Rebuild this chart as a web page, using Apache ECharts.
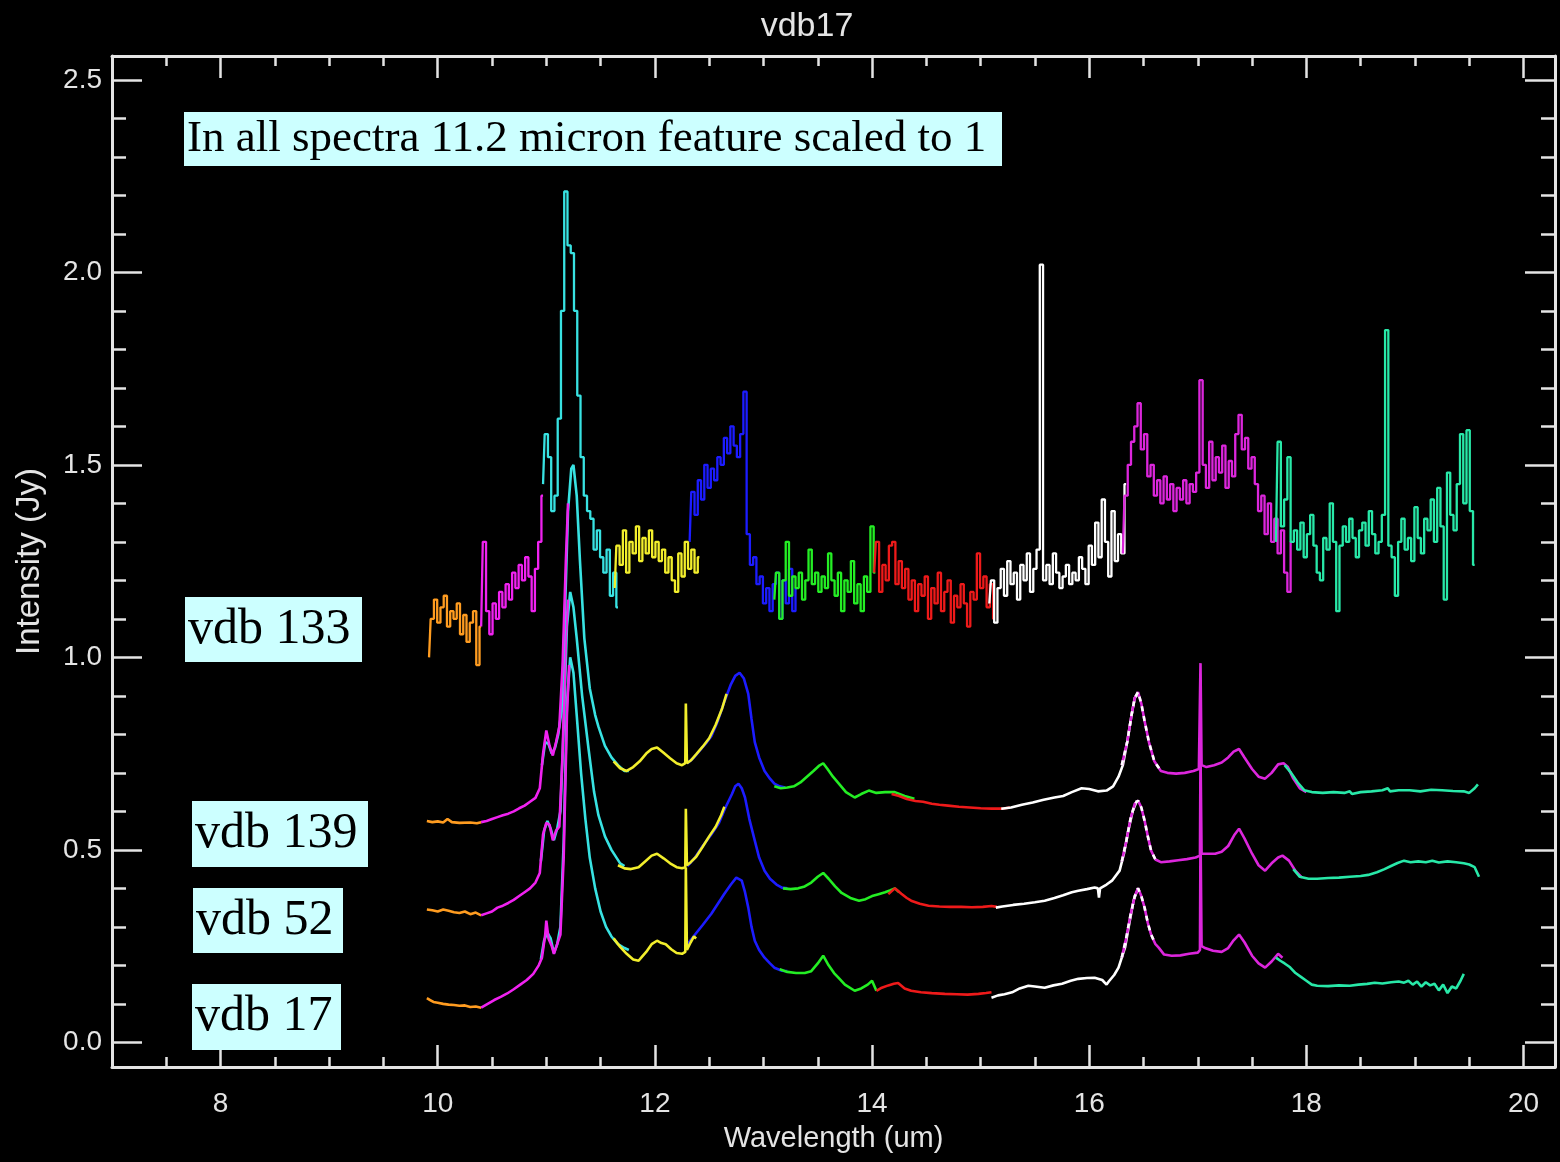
<!DOCTYPE html>
<html>
<head>
<meta charset="utf-8">
<title>vdb17</title>
<script src="https://cdn.jsdelivr.net/npm/echarts@6/dist/echarts.min.js"></script>
<style>
  html, body { margin: 0; padding: 0; background: #000; }
  #chart { width: 1560px; height: 1162px; }
</style>
</head>
<body>
<div id="chart"></div>
<script>
// ---- axis ticks ----
const xMajorTicks = [8, 10, 12, 14, 16, 18, 20];
const xMinorTicks = [7.5, 8.5, 9, 9.5, 10.5, 11, 11.5, 12.5, 13, 13.5, 14.5, 15, 15.5, 16.5, 17, 17.5, 18.5, 19, 19.5];
const yMajorTicks = [0, 0.5, 1.0, 1.5, 2.0, 2.5];
const yMinorTicks = [0.1, 0.2, 0.3, 0.4, 0.6, 0.7, 0.8, 0.9, 1.1, 1.2, 1.3, 1.4, 1.6, 1.7, 1.8, 1.9, 2.1, 2.2, 2.3, 2.4];

// ---- vdb 133: noisy spectrum sampled every 0.03 um, one array per order ----
const vdb133Step = 0.03;
const vdb133OrangeStart = 9.92;
const vdb133Orange = [1.00, 1.10, 1.15, 1.09, 1.13, 1.16, 1.08, 1.12, 1.10, 1.14, 1.06, 1.11, 1.04, 1.09, 1.12, 0.98, 1.08];
const vdb133MagentaStart = 10.40;
const vdb133Magenta = [1.08, 1.30, 1.12, 1.06, 1.14, 1.10, 1.17, 1.13, 1.19, 1.15, 1.22, 1.18, 1.24, 1.20, 1.26, 1.21, 1.12, 1.23, 1.30, 1.42];
const vdb133CyanStart = 10.97;
const vdb133Cyan = [1.45, 1.58, 1.52, 1.38, 1.42, 1.62, 1.90, 2.21, 2.07, 2.05, 1.90, 1.68, 1.52, 1.42, 1.38, 1.36, 1.28, 1.33, 1.26, 1.22, 1.28, 1.16, 1.22, 1.13];
const vdb133YellowStart = 11.63;
const vdb133Yellow = [1.18, 1.29, 1.24, 1.33, 1.22, 1.30, 1.27, 1.34, 1.25, 1.31, 1.27, 1.33, 1.26, 1.30, 1.25, 1.28, 1.22, 1.26, 1.20, 1.17, 1.27, 1.21, 1.30, 1.23, 1.28, 1.22, 1.26];
const vdb133BlueStart = 12.32;
const vdb133Blue = [1.30, 1.43, 1.37, 1.46, 1.41, 1.50, 1.44, 1.49, 1.46, 1.52, 1.50, 1.57, 1.53, 1.60, 1.55, 1.52, 1.58, 1.69, 1.32, 1.24, 1.26, 1.19, 1.21, 1.14, 1.18, 1.12, 1.19, 1.22, 1.10, 1.20, 1.14, 1.23, 1.12, 1.18];
const vdb133GreenStart = 13.10;
const vdb133Green = [1.15, 1.22, 1.10, 1.20, 1.30, 1.16, 1.21, 1.18, 1.22, 1.15, 1.20, 1.28, 1.19, 1.22, 1.17, 1.21, 1.18, 1.27, 1.20, 1.16, 1.22, 1.12, 1.20, 1.17, 1.25, 1.14, 1.19, 1.12, 1.21, 1.17, 1.34, 1.22];
const vdb133RedStart = 14.02;
const vdb133Red = [1.22, 1.30, 1.17, 1.24, 1.20, 1.29, 1.30, 1.19, 1.25, 1.18, 1.23, 1.15, 1.20, 1.12, 1.19, 1.16, 1.21, 1.10, 1.18, 1.14, 1.22, 1.12, 1.17, 1.20, 1.09, 1.16, 1.13, 1.19, 1.14, 1.08, 1.17, 1.15, 1.27, 1.18, 1.21, 1.13, 1.19, 1.10];
const vdb133WhiteStart = 15.08;
const vdb133White = [1.14, 1.20, 1.09, 1.18, 1.23, 1.16, 1.25, 1.19, 1.22, 1.15, 1.24, 1.20, 1.27, 1.17, 1.23, 1.28, 2.02, 1.20, 1.24, 1.19, 1.27, 1.22, 1.18, 1.21, 1.24, 1.19, 1.22, 1.20, 1.26, 1.23, 1.19, 1.29, 1.24, 1.35, 1.26, 1.41, 1.30, 1.21, 1.38, 1.25, 1.32, 1.27, 1.45];
const vdb133Magenta2Start = 16.31;
const vdb133Magenta2 = [1.27, 1.42, 1.50, 1.56, 1.60, 1.66, 1.54, 1.58, 1.47, 1.50, 1.42, 1.46, 1.40, 1.47, 1.41, 1.45, 1.38, 1.44, 1.41, 1.46, 1.40, 1.45, 1.43, 1.48, 1.72, 1.50, 1.44, 1.56, 1.46, 1.52, 1.48, 1.55, 1.44, 1.51, 1.47, 1.58, 1.63, 1.54, 1.57, 1.49, 1.52, 1.45, 1.38, 1.42, 1.32, 1.40, 1.30, 1.36, 1.27, 1.33, 1.22, 1.17, 1.30];
const vdb133AquaStart = 17.72;
const vdb133Aqua = [1.30, 1.56, 1.34, 1.41, 1.52, 1.30, 1.33, 1.28, 1.35, 1.26, 1.32, 1.37, 1.29, 1.22, 1.20, 1.31, 1.28, 1.40, 1.30, 1.12, 1.29, 1.34, 1.30, 1.36, 1.31, 1.26, 1.33, 1.35, 1.29, 1.38, 1.32, 1.27, 1.30, 1.37, 1.85, 1.29, 1.26, 1.16, 1.30, 1.36, 1.28, 1.31, 1.25, 1.39, 1.31, 1.27, 1.36, 1.33, 1.41, 1.30, 1.44, 1.34, 1.15, 1.48, 1.37, 1.33, 1.45, 1.58, 1.40, 1.59, 1.38, 1.24];

// ---- vdb 139: [wavelength, intensity] ----
const vdb139Orange = [[9.90,0.575],[9.95,0.572],[10.00,0.574],[10.05,0.571],[10.09,0.580],[10.13,0.572],[10.20,0.570],[10.30,0.571],[10.36,0.569],[10.40,0.572]];
const vdb139Magenta = [[10.40,0.572],[10.45,0.575],[10.50,0.580],[10.55,0.585],[10.60,0.590],[10.65,0.594],[10.70,0.600],[10.75,0.608],[10.80,0.615],[10.85,0.625],[10.90,0.635],[10.94,0.66],[10.97,0.75],[11.00,0.81],[11.03,0.77],[11.06,0.745],[11.09,0.78],[11.12,0.82],[11.15,0.98],[11.18,1.25],[11.20,1.40]];
const vdb139Cyan = [[10.96,0.72],[10.99,0.78],[11.02,0.775],[11.05,0.75],[11.08,0.765],[11.11,0.80],[11.14,0.86],[11.17,1.10],[11.20,1.38],[11.23,1.49],[11.25,1.50],[11.28,1.42],[11.31,1.25],[11.35,1.05],[11.40,0.92],[11.45,0.85],[11.48,0.82],[11.54,0.77],[11.60,0.74],[11.66,0.72],[11.72,0.705],[11.76,0.705]];
const vdb139Yellow = [[11.62,0.73],[11.68,0.712],[11.74,0.705],[11.80,0.715],[11.86,0.73],[11.92,0.75],[11.97,0.762],[12.02,0.766],[12.08,0.752],[12.14,0.738],[12.20,0.725],[12.25,0.72],[12.28,0.725],[12.285,0.88],[12.295,0.725],[12.33,0.732],[12.38,0.748],[12.44,0.768],[12.50,0.79],[12.56,0.825],[12.62,0.868],[12.66,0.905]];
const vdb139Blue = [[12.30,0.725],[12.36,0.74],[12.42,0.76],[12.48,0.78],[12.52,0.795],[12.58,0.835],[12.64,0.885],[12.70,0.93],[12.74,0.952],[12.78,0.96],[12.82,0.945],[12.86,0.905],[12.89,0.84],[12.92,0.78],[12.96,0.74],[13.01,0.705],[13.06,0.685],[13.10,0.672],[13.15,0.665],[13.20,0.662]];
const vdb139Green = [[13.10,0.665],[13.16,0.66],[13.22,0.662],[13.28,0.665],[13.34,0.675],[13.40,0.69],[13.46,0.705],[13.51,0.718],[13.55,0.725],[13.59,0.71],[13.64,0.69],[13.70,0.67],[13.76,0.65],[13.84,0.636],[13.90,0.645],[13.97,0.654],[14.04,0.648],[14.12,0.65],[14.21,0.65],[14.30,0.64],[14.39,0.633]];
const vdb139Red = [[14.18,0.645],[14.25,0.64],[14.32,0.632],[14.40,0.627],[14.47,0.625],[14.55,0.62],[14.62,0.617],[14.70,0.615],[14.80,0.612],[14.90,0.61],[15.00,0.608],[15.10,0.607],[15.20,0.607],[15.27,0.61]];
const vdb139White = [[15.19,0.607],[15.28,0.61],[15.38,0.617],[15.48,0.623],[15.58,0.63],[15.68,0.636],[15.76,0.64],[15.84,0.65],[15.93,0.66],[16.00,0.658],[16.08,0.652],[16.16,0.654],[16.22,0.665],[16.27,0.69],[16.31,0.72],[16.35,0.78],[16.39,0.85],[16.42,0.895],[16.45,0.905]];
const vdb139Magenta2 = [[16.30,0.72],[16.35,0.78],[16.39,0.85],[16.42,0.895],[16.45,0.91],[16.48,0.88],[16.51,0.835],[16.55,0.78],[16.60,0.73],[16.66,0.705],[16.72,0.70],[16.80,0.698],[16.88,0.70],[16.96,0.705],[17.01,0.71],[17.025,0.985],[17.035,0.72],[17.08,0.715],[17.15,0.72],[17.22,0.727],[17.28,0.74],[17.33,0.755],[17.38,0.762],[17.43,0.74],[17.50,0.71],[17.56,0.69],[17.62,0.685],[17.68,0.70],[17.74,0.722],[17.79,0.725],[17.83,0.715],[17.88,0.685],[17.94,0.66],[18.00,0.65]];
const vdb139Aqua = [[17.80,0.72],[17.86,0.70],[17.92,0.675],[17.98,0.655],[18.05,0.65],[18.15,0.648],[18.25,0.65],[18.35,0.648],[18.40,0.652],[18.42,0.645],[18.50,0.65],[18.60,0.652],[18.70,0.655],[18.75,0.66],[18.77,0.652],[18.85,0.655],[18.95,0.655],[19.05,0.652],[19.15,0.656],[19.25,0.655],[19.35,0.653],[19.45,0.652],[19.50,0.648],[19.55,0.66],[19.58,0.67]];

// ---- vdb 52 ----
const vdb52Orange = [[9.90,0.345],[9.95,0.343],[10.00,0.340],[10.05,0.345],[10.10,0.342],[10.15,0.338],[10.20,0.336],[10.25,0.34],[10.30,0.333],[10.35,0.337],[10.40,0.33]];
const vdb52Magenta = [[10.40,0.33],[10.45,0.335],[10.50,0.34],[10.55,0.35],[10.60,0.355],[10.65,0.362],[10.70,0.37],[10.75,0.38],[10.80,0.39],[10.85,0.40],[10.90,0.415],[10.94,0.44],[10.97,0.54],[11.00,0.57],[11.03,0.565],[11.06,0.525],[11.09,0.55],[11.12,0.56],[11.15,0.75],[11.18,1.05],[11.20,1.15]];
const vdb52Cyan = [[10.95,0.47],[10.98,0.55],[11.01,0.575],[11.04,0.555],[11.07,0.525],[11.10,0.555],[11.13,0.60],[11.16,0.82],[11.19,1.08],[11.22,1.17],[11.25,1.13],[11.28,1.05],[11.33,0.90],[11.39,0.76],[11.44,0.65],[11.48,0.59],[11.54,0.535],[11.60,0.50],[11.68,0.465],[11.72,0.458]];
const vdb52Yellow = [[11.66,0.46],[11.72,0.452],[11.78,0.45],[11.85,0.455],[11.91,0.47],[11.97,0.485],[12.02,0.49],[12.08,0.478],[12.14,0.465],[12.20,0.455],[12.25,0.452],[12.28,0.455],[12.285,0.607],[12.295,0.46],[12.33,0.468],[12.38,0.482],[12.44,0.508],[12.50,0.535],[12.56,0.56],[12.61,0.59],[12.64,0.612]];
const vdb52Blue = [[12.30,0.458],[12.37,0.48],[12.44,0.51],[12.52,0.54],[12.59,0.57],[12.65,0.61],[12.71,0.645],[12.74,0.665],[12.77,0.672],[12.80,0.66],[12.83,0.636],[12.87,0.58],[12.92,0.524],[12.96,0.48],[13.01,0.446],[13.06,0.425],[13.12,0.41],[13.17,0.402],[13.22,0.40]];
const vdb52Green = [[13.18,0.40],[13.25,0.398],[13.32,0.40],[13.38,0.405],[13.44,0.415],[13.50,0.43],[13.55,0.44],[13.60,0.425],[13.66,0.405],[13.72,0.388],[13.80,0.375],[13.88,0.368],[13.94,0.372],[14.00,0.38],[14.06,0.385],[14.12,0.39],[14.17,0.395],[14.21,0.40],[14.25,0.39]];
const vdb52Red = [[14.15,0.385],[14.21,0.40],[14.27,0.386],[14.32,0.375],[14.36,0.368],[14.44,0.36],[14.52,0.355],[14.62,0.353],[14.72,0.352],[14.82,0.352],[14.92,0.351],[15.02,0.352],[15.10,0.354],[15.15,0.352]];
const vdb52White = [[15.14,0.35],[15.20,0.353],[15.30,0.357],[15.40,0.36],[15.50,0.364],[15.59,0.368],[15.68,0.375],[15.76,0.382],[15.84,0.39],[15.90,0.394],[15.98,0.398],[16.05,0.402],[16.08,0.40],[16.09,0.376],[16.10,0.40],[16.16,0.41],[16.21,0.42],[16.28,0.446],[16.32,0.49],[16.36,0.55],[16.40,0.60],[16.44,0.628]];
const vdb52Magenta2 = [[16.30,0.47],[16.34,0.52],[16.38,0.58],[16.42,0.62],[16.45,0.628],[16.48,0.61],[16.51,0.576],[16.54,0.535],[16.57,0.498],[16.61,0.475],[16.66,0.468],[16.74,0.47],[16.82,0.473],[16.90,0.476],[16.98,0.48],[17.02,0.485],[17.025,0.76],[17.035,0.49],[17.10,0.49],[17.16,0.49],[17.22,0.495],[17.28,0.51],[17.34,0.54],[17.38,0.555],[17.43,0.53],[17.50,0.49],[17.56,0.46],[17.62,0.446],[17.68,0.465],[17.74,0.48],[17.78,0.485],[17.84,0.472],[17.90,0.445],[17.96,0.428]];
const vdb52Aqua = [[17.88,0.45],[17.94,0.43],[18.02,0.425],[18.10,0.425],[18.20,0.427],[18.30,0.428],[18.40,0.43],[18.50,0.432],[18.57,0.435],[18.65,0.442],[18.72,0.45],[18.78,0.458],[18.84,0.466],[18.90,0.472],[18.96,0.468],[19.03,0.47],[19.10,0.468],[19.16,0.472],[19.22,0.467],[19.30,0.47],[19.38,0.468],[19.45,0.465],[19.50,0.462],[19.55,0.455],[19.59,0.43]];

// ---- vdb 17 ----
const vdb17Orange = [[9.90,0.115],[9.93,0.11],[9.96,0.105],[10.00,0.103],[10.05,0.10],[10.10,0.098],[10.15,0.097],[10.20,0.095],[10.25,0.096],[10.30,0.092],[10.35,0.093],[10.40,0.09]];
const vdb17Magenta = [[10.40,0.09],[10.46,0.10],[10.52,0.11],[10.58,0.118],[10.64,0.127],[10.70,0.138],[10.76,0.15],[10.82,0.162],[10.88,0.178],[10.93,0.20],[10.96,0.22],[10.99,0.28],[11.00,0.316],[11.02,0.27],[11.05,0.25],[11.07,0.23],[11.10,0.255],[11.13,0.28],[11.16,0.48],[11.19,0.85],[11.21,0.98]];
const vdb17Cyan = [[10.95,0.215],[10.98,0.265],[11.01,0.285],[11.04,0.27],[11.07,0.232],[11.10,0.255],[11.13,0.30],[11.16,0.52],[11.19,0.88],[11.22,1.00],[11.25,0.96],[11.28,0.85],[11.32,0.70],[11.36,0.58],[11.40,0.48],[11.45,0.40],[11.50,0.34],[11.55,0.30],[11.60,0.275],[11.66,0.255],[11.72,0.245],[11.76,0.24]];
const vdb17Yellow = [[11.62,0.27],[11.68,0.248],[11.74,0.23],[11.80,0.215],[11.85,0.212],[11.88,0.222],[11.92,0.235],[11.97,0.255],[12.02,0.264],[12.06,0.258],[12.10,0.255],[12.15,0.242],[12.20,0.232],[12.25,0.23],[12.28,0.235],[12.285,0.454],[12.295,0.24],[12.33,0.26],[12.36,0.275],[12.38,0.27]];
const vdb17Blue = [[12.30,0.255],[12.37,0.28],[12.44,0.305],[12.52,0.334],[12.58,0.36],[12.64,0.386],[12.70,0.41],[12.75,0.428],[12.80,0.42],[12.83,0.39],[12.86,0.35],[12.89,0.30],[12.92,0.264],[12.96,0.24],[13.01,0.22],[13.06,0.205],[13.10,0.194],[13.17,0.186],[13.22,0.185]];
const vdb17Green = [[13.15,0.19],[13.22,0.183],[13.30,0.18],[13.38,0.18],[13.44,0.185],[13.50,0.205],[13.55,0.225],[13.60,0.20],[13.65,0.18],[13.69,0.168],[13.75,0.15],[13.84,0.134],[13.90,0.14],[13.96,0.15],[14.00,0.16],[14.04,0.134]];
const vdb17Red = [[14.04,0.134],[14.09,0.142],[14.15,0.148],[14.20,0.152],[14.24,0.154],[14.30,0.14],[14.36,0.134],[14.45,0.13],[14.55,0.128],[14.67,0.126],[14.78,0.125],[14.88,0.124],[14.98,0.126],[15.05,0.128],[15.10,0.13]];
const vdb17White = [[15.10,0.116],[15.16,0.122],[15.22,0.125],[15.29,0.13],[15.36,0.14],[15.44,0.147],[15.50,0.145],[15.59,0.142],[15.67,0.148],[15.75,0.152],[15.83,0.16],[15.90,0.165],[15.98,0.167],[16.05,0.168],[16.12,0.162],[16.16,0.15],[16.18,0.158],[16.23,0.175],[16.27,0.194],[16.30,0.22],[16.33,0.246],[16.37,0.31],[16.41,0.37],[16.45,0.40]];
const vdb17Magenta2 = [[16.30,0.22],[16.34,0.27],[16.38,0.33],[16.42,0.38],[16.45,0.40],[16.48,0.38],[16.51,0.35],[16.54,0.31],[16.57,0.28],[16.61,0.255],[16.64,0.246],[16.69,0.228],[16.76,0.225],[16.84,0.226],[16.92,0.23],[17.00,0.233],[17.02,0.24],[17.025,0.55],[17.035,0.25],[17.06,0.246],[17.14,0.238],[17.22,0.235],[17.28,0.245],[17.33,0.265],[17.38,0.28],[17.43,0.26],[17.50,0.225],[17.56,0.205],[17.62,0.194],[17.68,0.21],[17.74,0.23],[17.78,0.22]];
const vdb17Aqua = [[17.72,0.22],[17.76,0.212],[17.80,0.205],[17.85,0.195],[17.90,0.18],[17.95,0.17],[18.00,0.16],[18.05,0.15],[18.10,0.147],[18.20,0.146],[18.30,0.148],[18.40,0.147],[18.48,0.15],[18.56,0.152],[18.63,0.155],[18.70,0.153],[18.78,0.156],[18.85,0.158],[18.90,0.155],[18.94,0.16],[18.98,0.15],[19.02,0.158],[19.06,0.145],[19.10,0.156],[19.14,0.148],[19.18,0.152],[19.22,0.135],[19.26,0.15],[19.30,0.128],[19.34,0.145],[19.38,0.14],[19.42,0.16],[19.45,0.178]];

// ---- styling ----
const orderColors = {
  orange: '#ff9c20', magenta: '#f022f0', cyan: '#38e2e2', yellow: '#f2ee2c',
  blue: '#1c1cff', green: '#24ee24', red: '#ee1a1a', white: '#ffffff',
  magenta2: '#dc26dc', aqua: '#28e8a8'
};
const axisColor = '#e4e4e4';

function sampled(x0, dx, vals) {
  return vals.map((v, i) => [Math.round((x0 + i * dx) * 1000) / 1000, v]);
}

const series = [];
function addSegments(segments, width, step) {
  segments.forEach(([order, data, dash]) => {
    series.push({
      type: 'line',
      data: data,
      xAxisIndex: 0,
      yAxisIndex: 0,
      showSymbol: false,
      symbol: 'none',
      step: step || false,
      silent: true,
      animation: false,
      lineStyle: { color: orderColors[order], width: width, type: dash ? [5, 5] : 'solid' },
      itemStyle: { color: orderColors[order] }
    });
  });
}

// lower spectra: drawn in order of overlap; the white order overlaps the 16.4 um peak (dashed)
addSegments([
  ['orange', vdb17Orange], ['cyan', vdb17Cyan], ['magenta', vdb17Magenta], ['blue', vdb17Blue],
  ['yellow', vdb17Yellow], ['green', vdb17Green], ['red', vdb17Red], ['white', vdb17White],
  ['magenta2', vdb17Magenta2], ['white', vdb17Magenta2.slice(0, 10), true], ['aqua', vdb17Aqua]
], 2.6);
addSegments([
  ['orange', vdb52Orange], ['cyan', vdb52Cyan], ['magenta', vdb52Magenta], ['blue', vdb52Blue],
  ['yellow', vdb52Yellow], ['green', vdb52Green], ['red', vdb52Red], ['white', vdb52White],
  ['magenta2', vdb52Magenta2], ['white', vdb52Magenta2.slice(0, 10), true], ['aqua', vdb52Aqua]
], 2.6);
addSegments([
  ['orange', vdb139Orange], ['cyan', vdb139Cyan], ['magenta', vdb139Magenta], ['blue', vdb139Blue],
  ['yellow', vdb139Yellow], ['green', vdb139Green], ['red', vdb139Red], ['white', vdb139White],
  ['magenta2', vdb139Magenta2], ['white', vdb139Magenta2.slice(0, 10), true], ['aqua', vdb139Aqua]
], 2.6);
// vdb 133 is plotted as a histogram
addSegments([
  ['orange', sampled(vdb133OrangeStart, vdb133Step, vdb133Orange)],
  ['magenta', sampled(vdb133MagentaStart, vdb133Step, vdb133Magenta)],
  ['cyan', sampled(vdb133CyanStart, vdb133Step, vdb133Cyan)],
  ['blue', sampled(vdb133BlueStart, vdb133Step, vdb133Blue)],
  ['yellow', sampled(vdb133YellowStart, vdb133Step, vdb133Yellow)],
  ['green', sampled(vdb133GreenStart, vdb133Step, vdb133Green)],
  ['red', sampled(vdb133RedStart, vdb133Step, vdb133Red)],
  ['white', sampled(vdb133WhiteStart, vdb133Step, vdb133White)],
  ['magenta2', sampled(vdb133Magenta2Start, vdb133Step, vdb133Magenta2)],
  ['aqua', sampled(vdb133AquaStart, vdb133Step, vdb133Aqua)]
], 2.3, 'middle');

const X_MIN = 7, X_MAX = 20.29, Y_MIN = -0.064, Y_MAX = 2.562;
const tickLine = { color: axisColor, width: 2.5 };

function xAxisDef(position, ticks, len, withLine, withLabels) {
  const ax = {
    type: 'value', position: position, min: X_MIN, max: X_MAX,
    axisLine: { show: withLine, onZero: false, lineStyle: { color: axisColor, width: 3 } },
    axisTick: { show: true, inside: true, length: len, customValues: ticks, lineStyle: tickLine },
    axisLabel: { show: false },
    splitLine: { show: false }
  };
  if (withLabels) {
    ax.axisLabel = {
      show: true, customValues: ticks, color: axisColor, fontSize: 28,
      fontFamily: 'Liberation Sans', margin: 23,
      formatter: v => String(Math.round(v))
    };
    ax.name = 'Wavelength (um)';
    ax.nameLocation = 'middle';
    ax.nameGap = 57;
    ax.nameTextStyle = { color: axisColor, fontSize: 29, fontFamily: 'Liberation Sans' };
  }
  return ax;
}
function yAxisDef(position, ticks, len, withLine, withLabels) {
  const ax = {
    type: 'value', position: position, min: Y_MIN, max: Y_MAX,
    axisLine: { show: withLine, onZero: false, lineStyle: { color: axisColor, width: 3 } },
    axisTick: { show: true, inside: true, length: len, customValues: ticks, lineStyle: tickLine },
    axisLabel: { show: false },
    splitLine: { show: false }
  };
  if (withLabels) {
    ax.axisLabel = {
      show: true, customValues: ticks, color: axisColor, fontSize: 28,
      fontFamily: 'Liberation Sans', margin: 10,
      formatter: v => v.toFixed(1)
    };
    ax.name = 'Intensity (Jy)';
    ax.nameLocation = 'middle';
    ax.nameGap = 66;
    ax.nameTextStyle = { color: axisColor, fontSize: 33, fontFamily: 'Liberation Sans' };
  }
  return ax;
}

// annotation boxes
const serif = 'Liberation Serif';
function labelBox(x, y, w, h, text, size) {
  return [
    { type: 'rect', shape: { x: x, y: y, width: w, height: h }, style: { fill: '#ccffff' }, z: 100 },
    { type: 'text', x: x + 3, y: y + h / 2, z: 101,
      style: { text: text, font: size + 'px "' + serif + '"', fill: '#000', align: 'left', verticalAlign: 'middle' } }
  ];
}

const chart = echarts.init(document.getElementById('chart'), null, { renderer: 'canvas' });
chart.setOption({
  backgroundColor: '#000',
  animation: false,
  grid: { left: 112, right: 5, top: 56, bottom: 95, containLabel: false, outerBoundsMode: 'none' },
  xAxis: [
    xAxisDef('bottom', xMajorTicks, 22, true, true),
    xAxisDef('bottom', xMinorTicks, 10, false, false),
    xAxisDef('top', xMajorTicks, 22, true, false),
    xAxisDef('top', xMinorTicks, 10, false, false)
  ],
  yAxis: [
    yAxisDef('left', yMajorTicks, 30, true, true),
    yAxisDef('left', yMinorTicks, 14, false, false),
    yAxisDef('right', yMajorTicks, 30, true, false),
    yAxisDef('right', yMinorTicks, 14, false, false)
  ],
  series: series,
  graphic: [
    { type: 'text', x: 807, y: 27, z: 100,
      style: { text: 'vdb17', font: '34px "Liberation Sans"', fill: axisColor, align: 'center', verticalAlign: 'middle' } },
    ...labelBox(184, 112, 818, 54, 'In all spectra 11.2 micron feature scaled to 1', 45),
    ...labelBox(185, 597, 177, 65, 'vdb 133', 50),
    ...labelBox(192, 801, 176, 66, 'vdb 139', 50),
    ...labelBox(193, 888, 150, 65, 'vdb 52', 50),
    ...labelBox(192, 984, 149, 66, 'vdb 17', 50)
  ]
});
</script>
</body>
</html>
